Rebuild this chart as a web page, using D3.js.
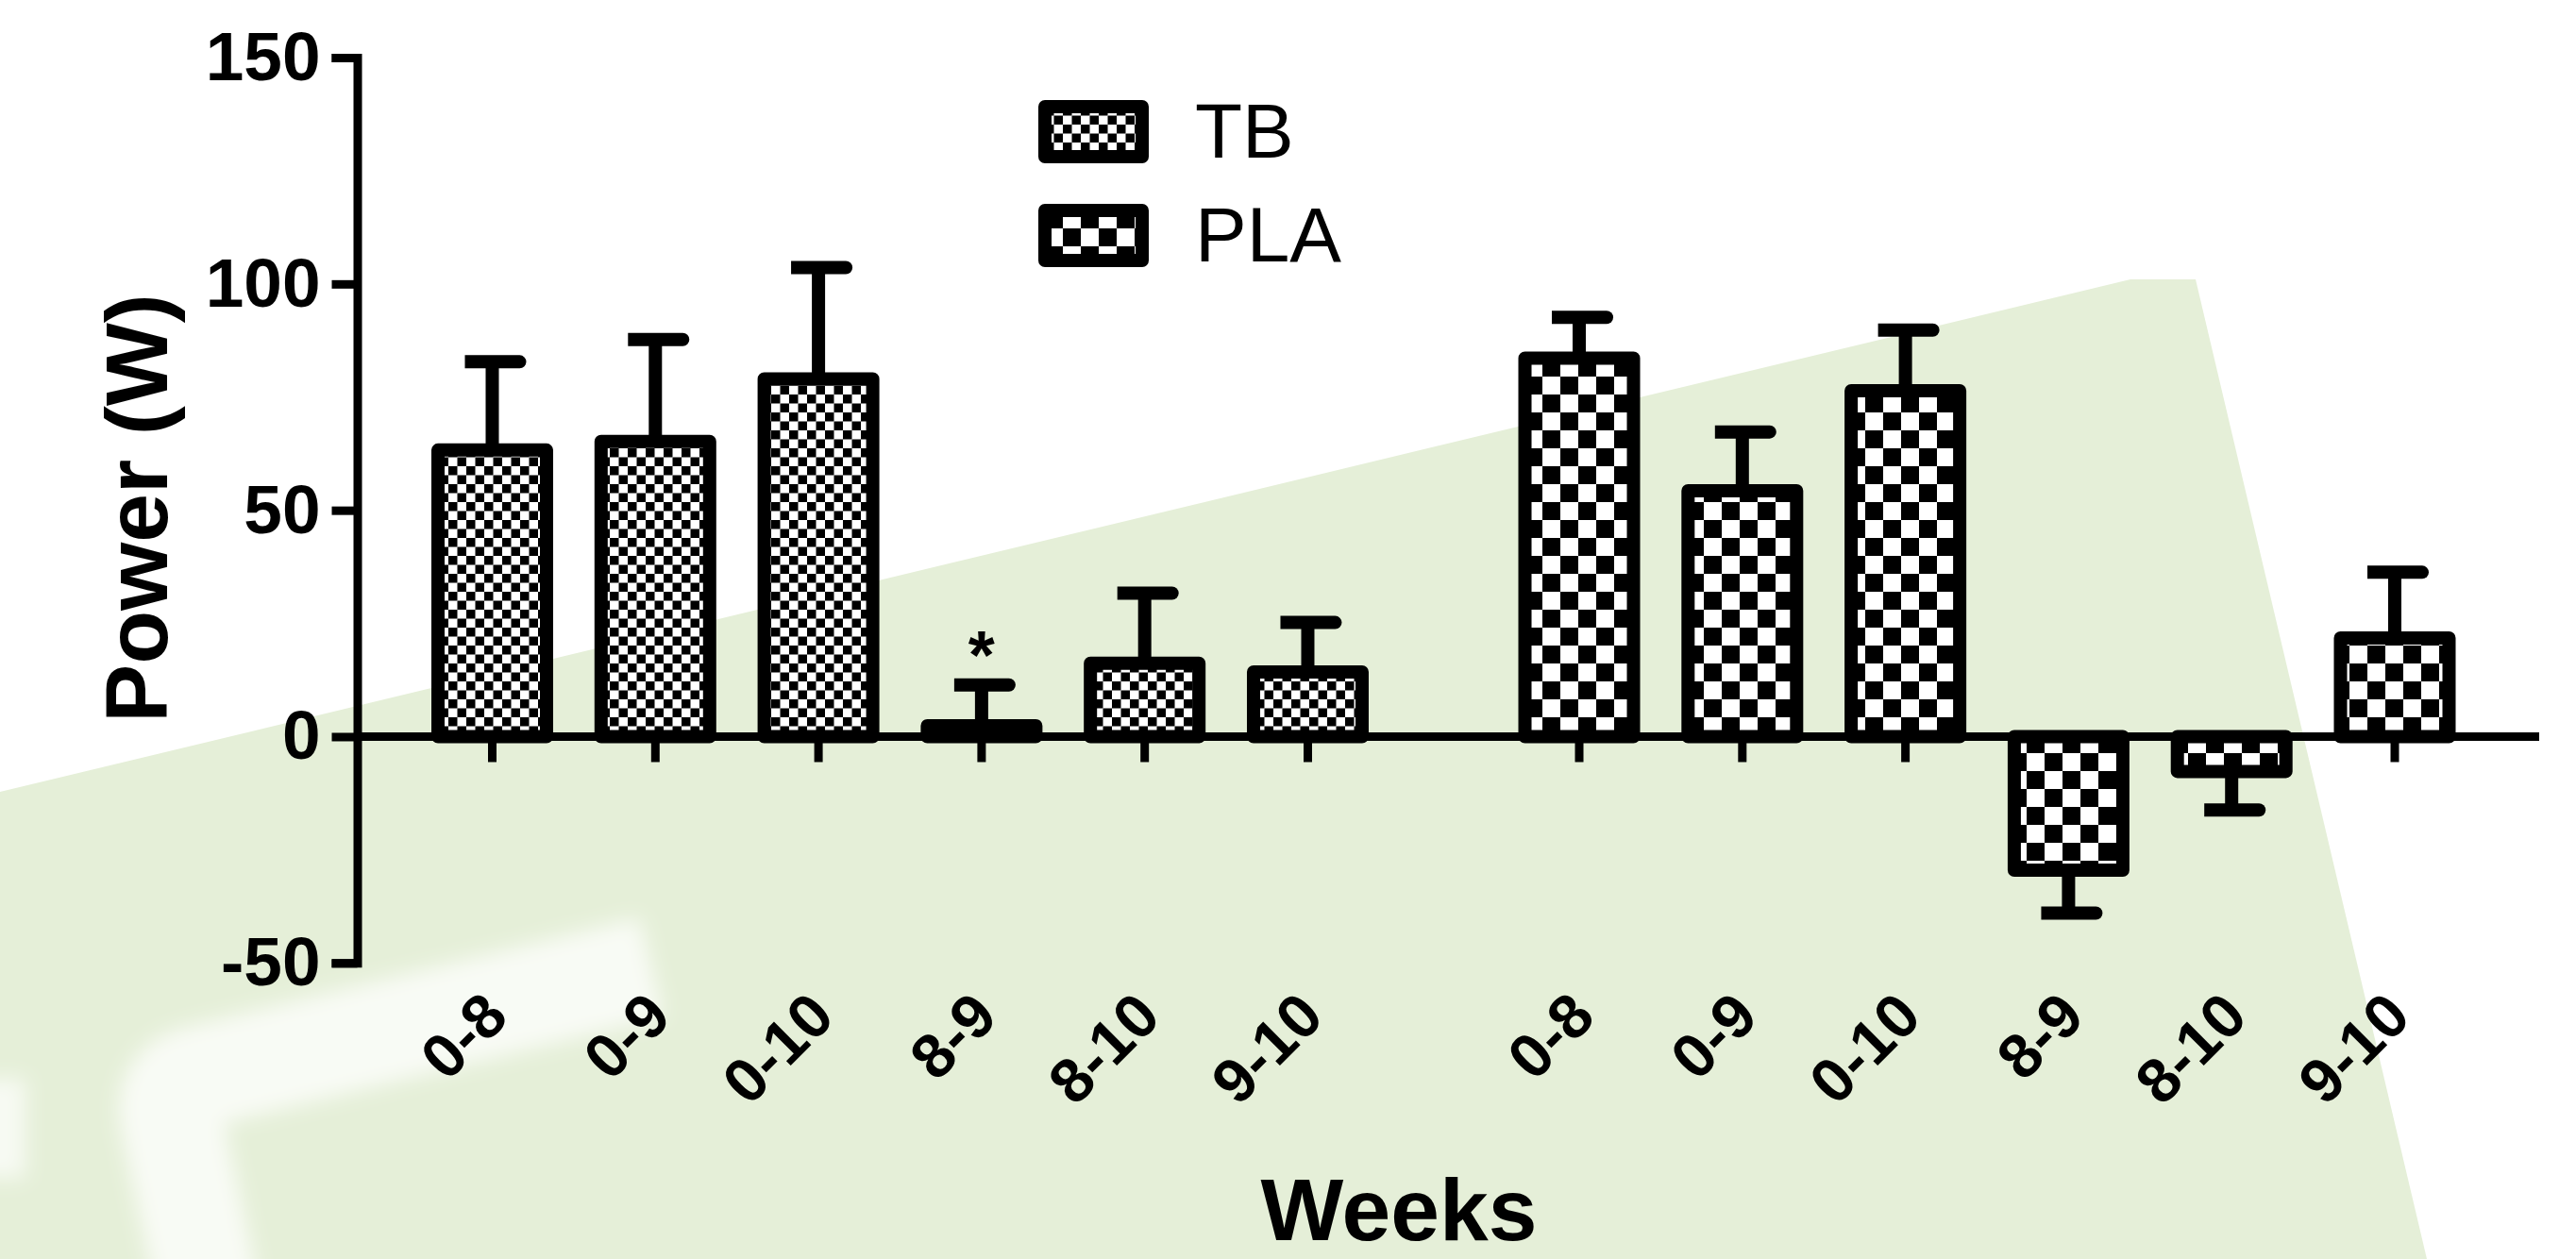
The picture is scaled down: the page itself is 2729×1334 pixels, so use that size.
<!DOCTYPE html>
<html>
<head>
<meta charset="utf-8">
<script src="https://cdn.jsdelivr.net/npm/d3@7"></script>
<style>
  body { margin: 0; background: #fff; }
  svg { display: block; }
</style>
</head>
<body>
<svg id="chart"></svg>
<script>
// values: mean power change (W) and SEM per week interval
const weeks = ["0-8", "0-9", "0-10", "8-9", "8-10", "9-10"];
const groups = ["TB", "PLA"];
const tbMean = [63.3, 65.2, 79.0, 2.4, 16.2, 14.3];
const tbSem = [19.5, 22.5, 24.6, 9.0, 15.5, 10.9];
const plaMean = [83.6, 54.3, 76.4, -29.5, -7.7, 21.8];
const plaSem = [9.0, 13.0, 13.4, 9.5, 8.5, 14.5];
const yTicks = [-50, 0, 50, 100, 150];
const marks = [{ group: "TB", week: "8-9", text: "*" }];

const width = 2729, height = 1334;
const axisX = 379;
const groupGap = 0.664;   // extra empty space between the two groups, in bar slots
const barW = 115;
const lineW = 14;

const svg = d3.select("#chart")
    .attr("width", width)
    .attr("height", height)
    .attr("viewBox", [0, 0, width, height]);

// rows: one per bar
const rows = [];
groups.forEach((g, gi) => {
    const mean = gi === 0 ? tbMean : plaMean;
    const sem = gi === 0 ? tbSem : plaSem;
    weeks.forEach((w, wi) => {
        rows.push({
            key: g + " " + w, group: g, week: w,
            slot: wi + gi * (weeks.length + groupGap),
            mean: mean[wi], sem: sem[wi]
        });
    });
});

// scales
const x = d3.scaleLinear()
    .domain([0, weeks.length * 2 - 1 + groupGap])
    .range([521.5, 2537]);
const xCat = d3.scaleOrdinal()
    .domain(rows.map(d => d.key))
    .range(rows.map(d => x(d.slot)));
const y = d3.scaleLinear()
    .domain([-50, 150])
    .range([1020.3, 61]);

// patterns
const defs = svg.append("defs");
function checker(id, cell) {
    const p = defs.append("pattern")
        .attr("id", id)
        .attr("patternUnits", "userSpaceOnUse")
        .attr("width", cell * 2)
        .attr("height", cell * 2);
    p.append("rect").attr("width", cell * 2).attr("height", cell * 2).attr("fill", "#fff");
    p.append("rect").attr("width", cell).attr("height", cell).attr("fill", "#000");
    p.append("rect").attr("x", cell).attr("y", cell).attr("width", cell).attr("height", cell).attr("fill", "#000");
}
checker("pat-TB", 9.5);
checker("pat-PLA", 19);

defs.append("filter").attr("id", "soft")
    .attr("x", "-30%").attr("y", "-30%").attr("width", "160%").attr("height", "160%")
    .append("feGaussianBlur").attr("stdDeviation", 11);

// background decoration
svg.append("rect").attr("width", width).attr("height", height).attr("fill", "#fff");
svg.append("path")
    .attr("d", "M0,839 L2257,296 L2326,296 L2571,1334 L0,1334 Z")
    .attr("fill", "#e5efd8");
svg.append("path")
    .attr("d", "M232,1420 L182,1190 Q172,1148 214,1140 L690,1025")
    .attr("fill", "none")
    .attr("stroke", "#fff")
    .attr("stroke-width", 108)
    .attr("stroke-opacity", 0.75)
    .attr("filter", "url(#soft)");
svg.append("rect")
    .attr("x", -60).attr("y", 1143).attr("width", 87).attr("height", 105)
    .attr("fill", "#fff").attr("fill-opacity", 0.7)
    .attr("filter", "url(#soft)");

const font = "'Liberation Sans', Arial, Helvetica, sans-serif";

// y axis
svg.append("g")
    .attr("transform", `translate(${axisX - 0.5},0)`)
    .call(d3.axisLeft(y).tickValues(yTicks).tickSize(27).tickPadding(12).tickFormat(d => String(d)))
    .call(g => g.select(".domain").attr("stroke-width", 9).attr("stroke-linejoin", "miter"))
    .call(g => g.selectAll(".tick line").attr("stroke-width", 9))
    .call(g => g.selectAll(".tick text")
        .attr("font-family", font)
        .attr("font-weight", "bold")
        .attr("font-size", 73)
        .attr("fill", "#000"));

// x axis line
svg.append("line")
    .attr("x1", axisX)
    .attr("x2", 2690)
    .attr("y1", y(0))
    .attr("y2", y(0))
    .attr("stroke", "#000")
    .attr("stroke-width", 9);

// x ticks and rotated labels
svg.append("g")
    .attr("transform", `translate(-0.5,${y(0)})`)
    .call(d3.axisBottom(xCat).tickSize(27).tickSizeOuter(0).tickFormat(k => k.split(" ")[1]))
    .call(g => g.select(".domain").remove())
    .call(g => g.selectAll(".tick line").attr("stroke-width", 9))
    .call(g => g.selectAll(".tick text")
        .attr("x", 0).attr("y", 0).attr("dy", null)
        .attr("text-anchor", "end")
        .attr("transform", `translate(19.5,${1080 - y(0)}) rotate(-45)`)
        .attr("font-family", font)
        .attr("font-weight", "bold")
        .attr("font-size", 66)
        .attr("fill", "#000"));

// bars
svg.append("g")
    .selectAll("rect")
    .data(rows)
    .join("rect")
    .attr("x", d => x(d.slot) - barW / 2)
    .attr("y", d => y(Math.max(0, d.mean)))
    .attr("width", barW)
    .attr("height", d => Math.abs(y(d.mean) - y(0)))
    .attr("fill", d => `url(#pat-${d.group})`)
    .attr("stroke", "#000")
    .attr("stroke-width", lineW)
    .attr("stroke-linejoin", "round");

// error bars (one-sided, away from zero)
const tip = d => d.mean + Math.sign(d.mean) * d.sem;
const err = svg.append("g").selectAll("g").data(rows).join("g");
err.append("line")
    .attr("x1", d => x(d.slot))
    .attr("x2", d => x(d.slot))
    .attr("y1", d => y(d.mean))
    .attr("y2", d => y(tip(d)))
    .attr("stroke", "#000")
    .attr("stroke-width", lineW);
err.append("path")
    .attr("d", d => {
        const cx = x(d.slot), cy = y(tip(d)), r = lineW / 2;
        return `M${cx - 29},${cy - r}H${cx + 29}A${r},${r} 0 0 1 ${cx + 29},${cy + r}H${cx - 29}Z`;
    })
    .attr("fill", "#000");

// significance marks
svg.append("g")
    .selectAll("text")
    .data(marks)
    .join("text")
    .attr("x", m => x(rows.find(d => d.group === m.group && d.week === m.week).slot))
    .attr("y", m => {
        const d = rows.find(r => r.group === m.group && r.week === m.week);
        return y(tip(d)) - lineW / 2;
    })
    .attr("text-anchor", "middle")
    .attr("font-family", font)
    .attr("font-weight", "bold")
    .attr("font-size", 72)
    .text(m => m.text);

// legend
const legend = svg.append("g")
    .selectAll("g")
    .data(groups)
    .join("g")
    .attr("transform", (d, i) => `translate(1107,${113 + i * 110})`);
legend.append("rect")
    .attr("width", 103)
    .attr("height", 53)
    .attr("fill", d => `url(#pat-${d})`)
    .attr("stroke", "#000")
    .attr("stroke-width", lineW)
    .attr("stroke-linejoin", "round");
legend.append("text")
    .attr("x", 159)
    .attr("y", 54)
    .attr("font-family", font)
    .attr("font-size", 82)
    .text(d => d);

// axis titles
svg.append("text")
    .attr("x", 1482)
    .attr("y", 1314)
    .attr("text-anchor", "middle")
    .attr("font-family", font)
    .attr("font-weight", "bold")
    .attr("font-size", 93)
    .text("Weeks");
svg.append("text")
    .attr("transform", "translate(176.5,538.5) rotate(-90)")
    .attr("text-anchor", "middle")
    .attr("font-family", font)
    .attr("font-weight", "bold")
    .attr("font-size", 93)
    .text("Power (W)");
</script>
</body>
</html>
